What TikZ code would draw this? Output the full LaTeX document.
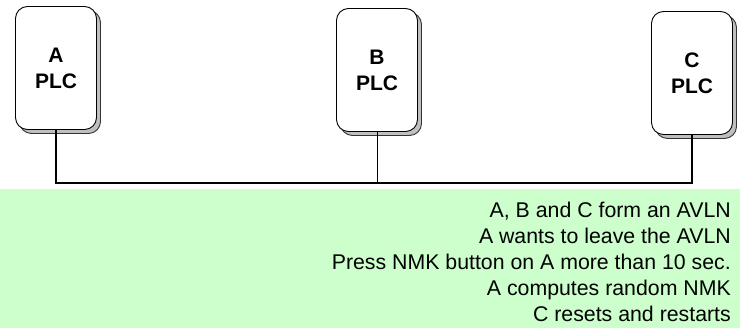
\documentclass[tikz,border=0pt]{standalone}
\usepackage{fontspec}
\setmainfont{Liberation Sans}
\usetikzlibrary{shadows}

\definecolor{notegreen}{RGB}{204,255,204}

\begin{document}
\begin{tikzpicture}[
    x=1pt, y=-1pt,
    plc/.style={
        draw,
        line width=0.9pt,
        fill=white,
        rounded corners=12pt,
        minimum width=81pt,
        minimum height=123pt,
        align=center,
        font=\fontsize{21}{26}\selectfont\bfseries,
        general shadow={fill=gray!50, draw=gray!40!black,
            shadow xshift=4pt, shadow yshift=-4pt}
    },
    note/.style={
        anchor=base east,
        inner sep=0pt,
        font=\fontsize{21.3}{25}\selectfont
    }
]
\useasboundingbox (0,0) rectangle (740,328);

% note area
\fill[notegreen] (0,189) rectangle (740,328);

% stations
\node[plc] (plcA) at (56,68)  {A\\PLC};
\node[plc] (plcB) at (377,70) {B\\PLC};
\node[plc] (plcC) at (692,73) {C\\PLC};

% power line
\coordinate (bus) at (377,183);
\draw[line width=1.4pt] (plcA.south) |- (bus) -| (plcC.south);
\draw[line width=0.9pt] (plcB.south) -- (bus);

% steps
\foreach \txt [count=\i] in {
    {A, B and C form an AVLN},
    {A wants to leave the AVLN},
    {Press NMK button on A more than 10 sec.},
    {A computes random NMK},
    {C resets and restarts}}
    \node[note] (step\i) at (731,{218+25.9*(\i-1)}) {\txt};

\end{tikzpicture}
\end{document}
